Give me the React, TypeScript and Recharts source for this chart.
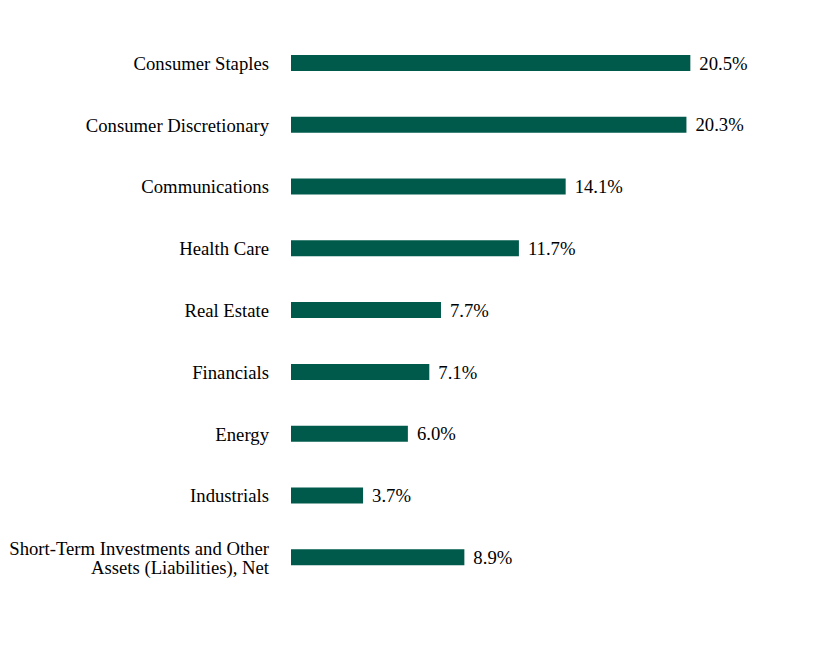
import { BarChart, Bar, XAxis, YAxis, LabelList } from 'recharts';

const SECTORS = [
  'Consumer Staples',
  'Consumer Discretionary',
  'Communications',
  'Health Care',
  'Real Estate',
  'Financials',
  'Energy',
  'Industrials',
  'Short-Term Investments and Other|Assets (Liabilities), Net',
];
const WEIGHTS = [20.5, 20.3, 14.1, 11.7, 7.7, 7.1, 6.0, 3.7, 8.9];

const BAR_COLOR = '#005a4b';
const FONT = 'Liberation Serif';
const FONT_SIZE = 18.7;

const data = SECTORS.map((name, i) => ({ name, value: WEIGHTS[i] }));

function SectorTick(props: any) {
  const { x, y, payload } = props;
  const lines = String(payload.value).split('|');
  const lineH = 19;
  const startDy = -((lines.length - 1) * lineH) / 2;
  return (
    <text
      x={x}
      y={y}
      textAnchor="end"
      dominantBaseline="central"
      style={{ fontFamily: FONT, fontSize: FONT_SIZE, fill: '#000' }}
    >
      {lines.map((ln, i) => (
        <tspan key={i} x={x} dy={i === 0 ? startDy : lineH}>
          {ln}
        </tspan>
      ))}
    </text>
  );
}

export default function App() {
  return (
    <div style={{ width: 800, height: 620, fontFamily: FONT }}>
      <BarChart
        width={800}
        height={620}
        data={data}
        layout="vertical"
        margin={{ top: 24, right: 30, bottom: 40, left: 0 }}
      >
        <XAxis type="number" domain={[0, 25]} hide />
        <YAxis
          type="category"
          dataKey="name"
          width={283}
          axisLine={false}
          tickLine={false}
          tickSize={0}
          tickMargin={22}
          interval={0}
          tick={<SectorTick />}
        />
        <Bar dataKey="value" fill={BAR_COLOR} barSize={16} isAnimationActive={false}>
          <LabelList
            dataKey="value"
            position="right"
            offset={9}
            formatter={(v: any) => `${Number(v).toFixed(1)}%`}
            style={{ fontFamily: FONT, fontSize: FONT_SIZE, fill: '#000' }}
          />
        </Bar>
      </BarChart>
    </div>
  );
}
